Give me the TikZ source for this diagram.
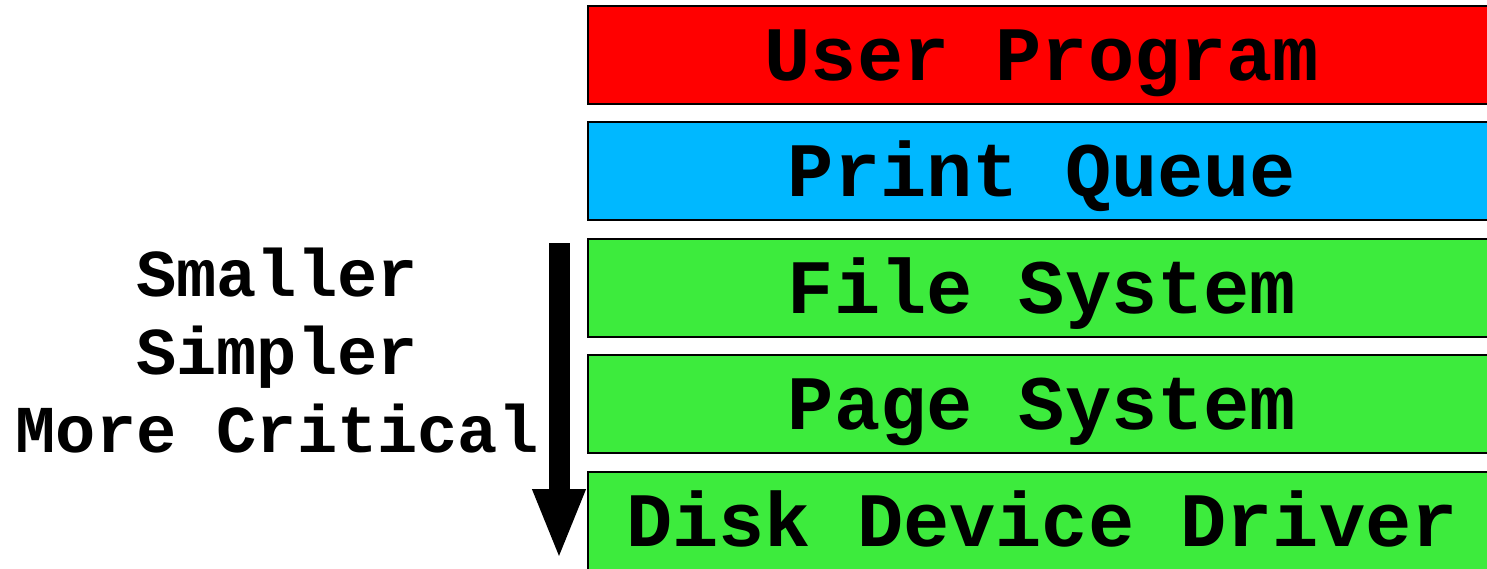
\documentclass[tikz,border=0pt]{standalone}
\usepackage{fontspec}
\setmonofont{Liberation Mono}
\usetikzlibrary{arrows.meta}

\definecolor{userred}{RGB}{255,0,0}
\definecolor{queueblue}{RGB}{0,184,255}
\definecolor{layergreen}{RGB}{61,235,61}

\tikzset{
  layer/.style={draw=black, line width=0.5pt, minimum width=363.2pt,
    minimum height=39.2pt, inner sep=0pt, text height=24pt, text depth=4pt,
    font=\ttfamily\bfseries\fontsize{30.8}{36}\selectfont},
  sidenote/.style={align=center, inner sep=0pt,
    font=\ttfamily\bfseries\fontsize{26.8}{31.2}\selectfont},
  downarrow/.style={line width=8.4pt, -{Triangle[width=19.2pt,length=28.4pt]}}
}

\begin{document}
\begin{tikzpicture}[x=0.4pt,y=-0.4pt]
	\clip (0,0) rectangle (1487,568);
	\fill [white] (0,0) rectangle (1487,568);
	% stack of layers, top to bottom
	\node [layer, fill=userred] (user) at (1042,55) {User Program};
	\node [layer, fill=queueblue] (queue) at (1042,171) {Print Queue};
	\node [layer, fill=layergreen] (files) at (1042,288) {File System};
	\node [layer, fill=layergreen] (pages) at (1042,404) {Page System};
	\node [layer, fill=layergreen] (disk) at (1042,521) {Disk Device Driver};
	% arrow down the side
	\coordinate (top) at (559,243);
	\coordinate (tip) at (559,560);
	\draw [downarrow] (top) -- (tip);
	\node [sidenote] (note) at (277,351) {Smaller\\Simpler\\More Critical};
\end{tikzpicture}
\end{document}
